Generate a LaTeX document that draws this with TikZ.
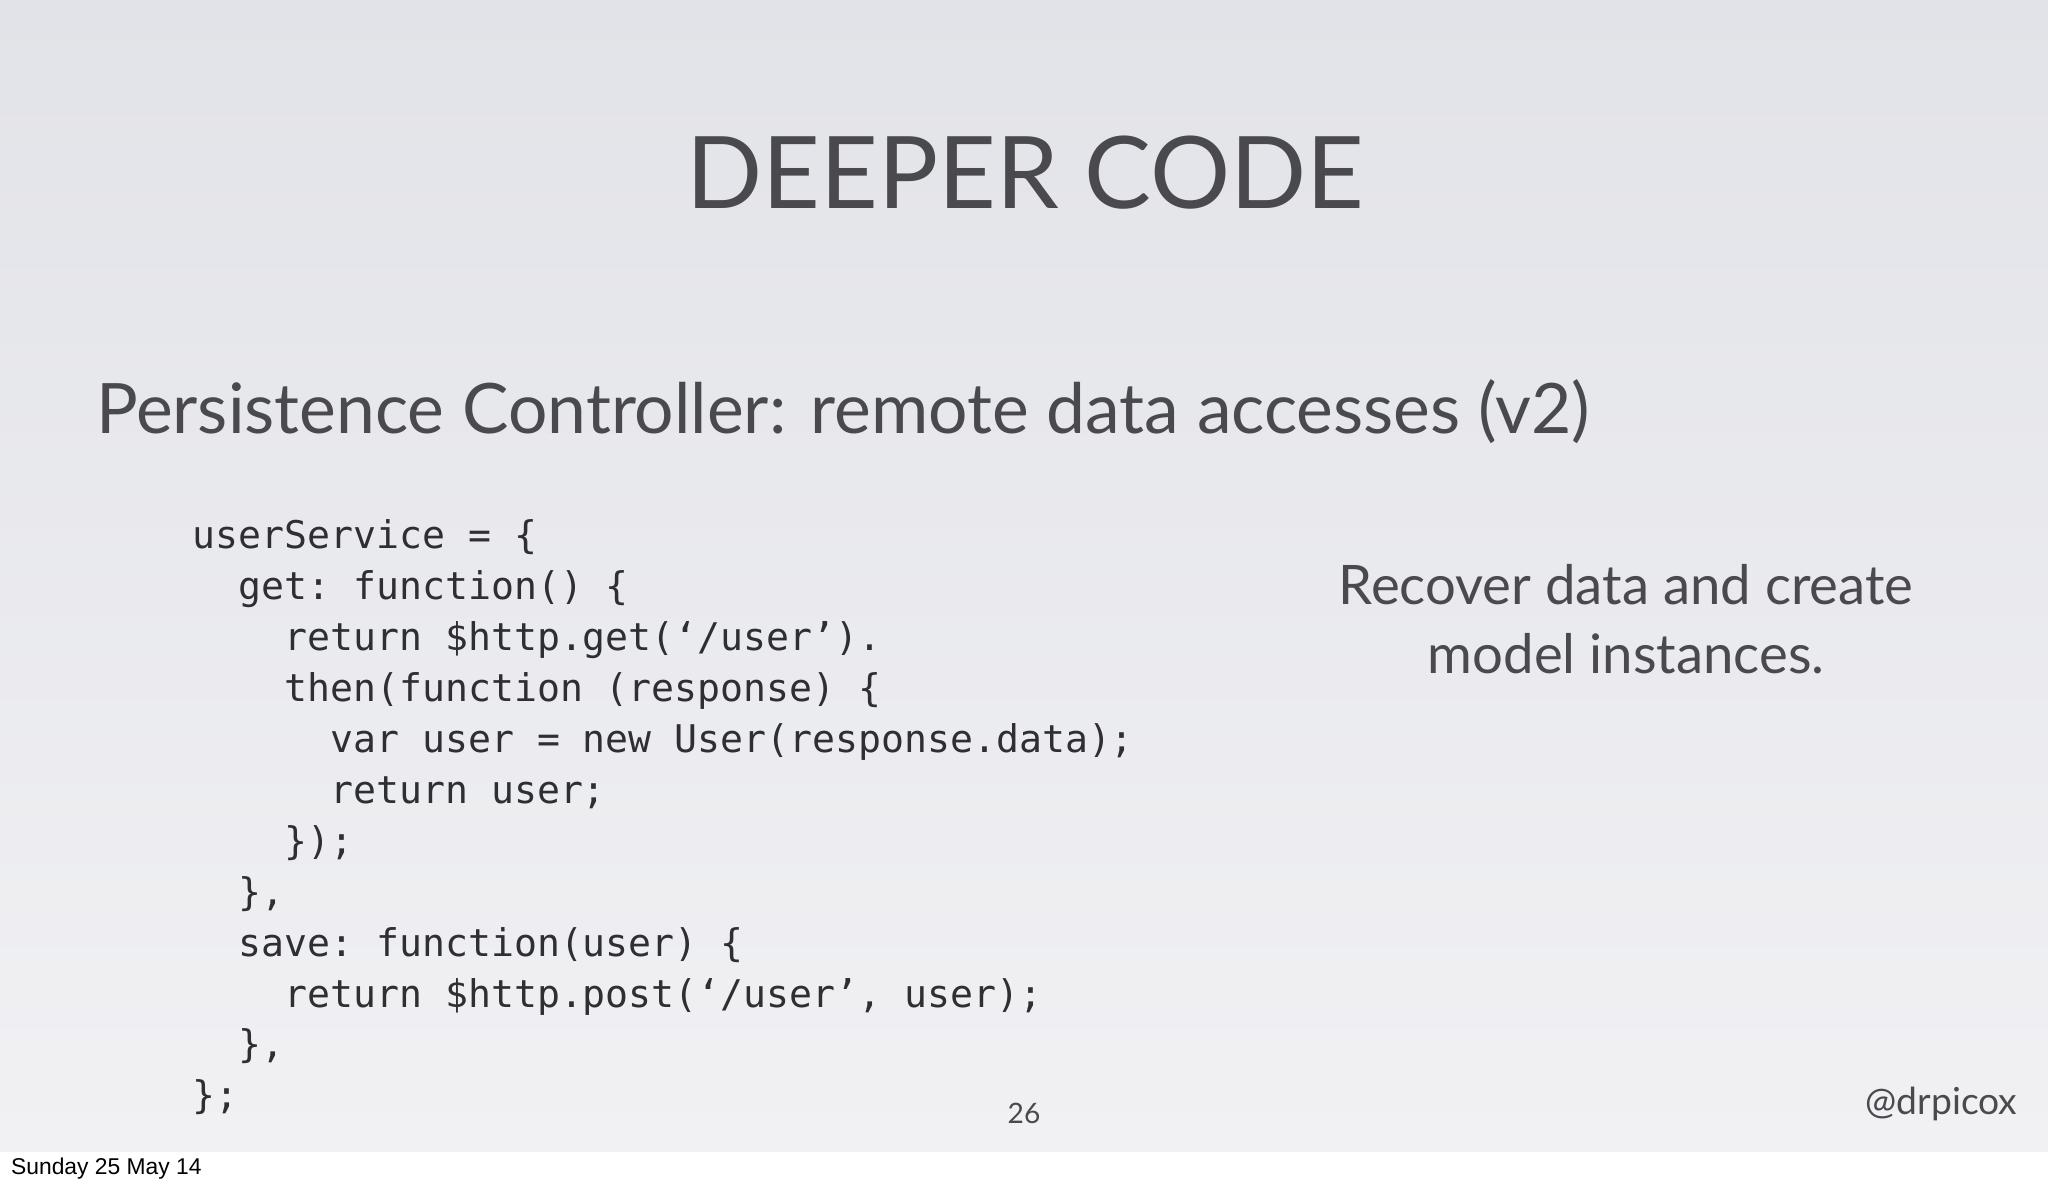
\documentclass[tikz,border=0pt]{standalone}
\usepackage{fontspec}
\setmainfont{Lato}
\setmonofont{DejaVu Sans Mono}
\newfontfamily\arialf{Liberation Sans}
\definecolor{ink}{HTML}{4A4A4E}
\definecolor{codeink}{HTML}{2E2E33}
\begin{document}
\begin{tikzpicture}[x=0.013061cm,y=-0.013061cm,
  codeline/.style={anchor=base west,inner sep=0,font=\ttfamily\fontsize{10.85}{12}\selectfont,text=codeink},
  plain/.style={inner sep=0,text=ink}]
\useasboundingbox (0,0) rectangle (1568,906);
\shade[top color={rgb,255:red,226;green,227;blue,232},bottom color={rgb,255:red,241;green,241;blue,244}] (0,0) rectangle (1568,882);
\fill[white] (0,882) rectangle (1568,906);
\node[plain,anchor=base,font=\fontsize{28.5}{32}\selectfont] (title) at (785,160) {DEEPER CODE};
\node[plain,anchor=base west,font=\fontsize{19.8}{24}\selectfont] (sub) at (73,332) {Persistence Controller: remote data accesses (v2)};
\node[codeline] (c1) at (147,420) {userService = \{};
\node[codeline] (c2) at (147,459) {\ \ get: function() \{};
\node[codeline] (c3) at (147,498) {\ \ \ \ return \$http.get(‘/user’).};
\node[codeline] (c4) at (147,537) {\ \ \ \ then(function (response) \{};
\node[codeline] (c5) at (147,576) {\ \ \ \ \ \ var user = new User(response.data);};
\node[codeline] (c6) at (147,615) {\ \ \ \ \ \ return user;};
\node[codeline] (c7) at (147,654) {\ \ \ \ \});};
\node[codeline] (c8) at (147,693) {\ \ \},};
\node[codeline] (c9) at (147,732) {\ \ save: function(user) \{};
\node[codeline] (c10) at (147,771) {\ \ \ \ return \$http.post(‘/user’, user);};
\node[codeline] (c11) at (147,810) {\ \ \},};
\node[codeline] (c12) at (147,849) {\};};
\node[plain,anchor=base,font=\fontsize{15.5}{18}\selectfont] (r1) at (1245,463) {Recover data and create};
\node[plain,anchor=base,font=\fontsize{15.5}{18}\selectfont] (r2) at (1245,516) {model instances.};
\node[plain,anchor=base,font=\fontsize{8}{10}\selectfont] (pg) at (784,860) {26};
\node[plain,anchor=base east,font=\fontsize{10.6}{13}\selectfont] (tw) at (1545,853) {@drpicox};
\node[anchor=base west,inner sep=0,font=\arialf\fontsize{6.5}{8}\selectfont] (date) at (8,899) {Sunday 25 May 14};
\end{tikzpicture}
\end{document}
